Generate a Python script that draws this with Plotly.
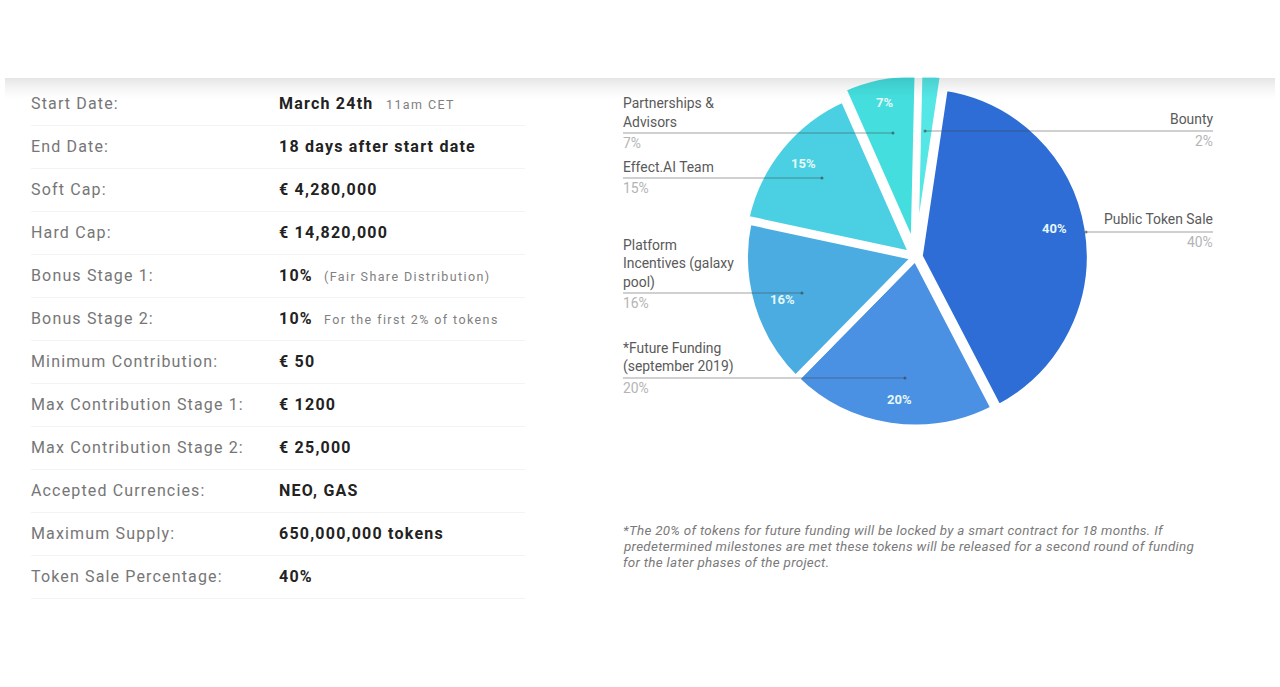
import plotly.graph_objects as go

W, H = 1280, 687

row_names = ["Start Date:", "End Date:", "Soft Cap:", "Hard Cap:", "Bonus Stage 1:", "Bonus Stage 2:",
             "Minimum Contribution:", "Max Contribution Stage 1:", "Max Contribution Stage 2:",
             "Accepted Currencies:", "Maximum Supply:", "Token Sale Percentage:"]
row_values = ["March 24th", "18 days after start date", "€ 4,280,000", "€ 14,820,000", "10%", "10%",
              "€ 50", "€ 1200", "€ 25,000", "NEO, GAS", "650,000,000 tokens", "40%"]
row_notes = ["11am CET", "", "", "", "(Fair Share Distribution)", "For the first 2% of tokens",
             "", "", "", "", "", ""]
note_x = [386, 0, 0, 0, 324, 324, 0, 0, 0, 0, 0, 0]

slice_names = ["Public Token Sale", "*Future Funding<br>(september 2019)", "Platform<br>Incentives (galaxy<br>pool)",
               "Effect.AI Team", "Partnerships &<br>Advisors", "Bounty"]
slice_values = [40, 20, 16, 15, 7, 2]
slice_colors = ["#2E6DD5", "#4A90E3", "#4AACE0", "#4AD0E2", "#45DEDE", "#55E6E6"]
slice_pull = [0.022, 0.0, 0.0, 0.02, 0.07, 0.07]
slice_gap = [7, 7, 7, 7, 5, 4]

# label layout: (percent x, percent y) inside the slices
pct_pos = [(1054, 228), (899, 400), (782, 299), (803, 164), (884, 103), None]
# label block: x, anchor, y of first text line, leader y, leader far end x, leader start x
label_pos = [(1213, "right", 219, 232, 1086, 1213),
             (623, "left", 348, 378, 905, 623),
             (623, "left", 245, 293, 802, 623),
             (623, "left", 167, 178, 822, 623),
             (623, "left", 103, 133, 893, 623),
             (1213, "right", 119, 131, 925, 1213)]

footnote = ["*The 20% of tokens for future funding will be locked by a smart contract for 18 months. If",
            "predetermined milestones are met these tokens will be released for a second round of funding",
            "for the later phases of the project."]

px = lambda x: x / W
py = lambda y: 1 - y / H

fig = go.Figure()
R = 171
CX, CY = 915.5, 257
PULL = max(slice_pull)
RD = R * (1 + PULL)
fig.add_trace(go.Pie(
    labels=[n.replace("<br>", " ") for n in slice_names], values=slice_values, sort=False,
    direction="clockwise", rotation=8.5, textinfo="none", hoverinfo="label+percent",
    pull=slice_pull, showlegend=False,
    marker=dict(colors=slice_colors, line=dict(color="white", width=slice_gap)),
    domain=dict(x=[px(CX - RD), px(CX + RD)], y=[py(CY + RD), py(CY - RD)]),
))

ann = []
shapes = []


def text(x, y, s, size, color, anchor="left", family="Roboto", spacing=None):
    if spacing:
        s = f'<span style="letter-spacing:{spacing}px">{s}</span>'
    ann.append(dict(x=px(x), y=py(y), xref="paper", yref="paper", text=s, showarrow=False,
                    xanchor=anchor, yanchor="middle", align=anchor,
                    font=dict(family=family, size=size, color=color), borderpad=0, borderwidth=0))


def line(x0, y0, x1, y1, color, width=1, layer="above"):
    shapes.append(dict(type="line", xref="paper", yref="paper", x0=px(x0), y0=py(y0), x1=px(x1), y1=py(y1),
                       line=dict(color=color, width=width), layer=layer))


def rect(x0, y0, x1, y1, color, layer="above"):
    shapes.append(dict(type="rect", xref="paper", yref="paper", x0=px(x0), y0=py(y0), x1=px(x1), y1=py(y1),
                       fillcolor=color, line=dict(width=0), layer=layer))


# table
for i, (n, v, t, nx) in enumerate(zip(row_names, row_values, row_notes, note_x)):
    y = 103.5 + 43 * i
    text(31, y, n, 16, "#767676", spacing=1.15)
    text(279, y, f"<b>{v}</b>", 16, "#222222", spacing=1.22)
    if t:
        text(nx, y + 1, t, 12.5, "#808080", spacing=1.4)
    line(31, y + 22, 525, y + 22, "#f3f3f3")

# pie labels and leaders
for v, name, pos, lp in zip(slice_values, slice_names, pct_pos, label_pos):
    if pos:
        text(pos[0], pos[1], f"<b>{v}%</b>", 13, "#e6f8f8", "center")
    x, anchor, y0, ly, far, start = lp
    for k, part in enumerate(name.split("<br>")):
        text(x, y0 + k * 18.5, part, 13.9, "#5a5a5a", anchor)
    text(x, ly + 10, f"{v}%", 13.9, "#b4b4b4", anchor)
    line(start, ly, far, ly, "rgba(70,70,70,0.5)", 1.2)
    shapes.append(dict(type="circle", xref="paper", yref="paper",
                       x0=px(far - 1.5), x1=px(far + 1.5), y0=py(ly + 1.5), y1=py(ly - 1.5),
                       fillcolor="rgba(60,60,60,0.6)", line=dict(width=0), layer="above"))

for i, t in enumerate(footnote):
    text(623, 530 + 16 * i, f"<i>{t}</i>", 13.4, "#7a7a7a", spacing=0.3)

# top clip and soft band
rect(0, 0, W, 77.5, "white")
for i in range(22):
    rect(5, 78 + i, 1275, 79 + i, f"rgba(0,0,0,{0.10 * (1 - i / 22) ** 1.5:.4f})")

fig.update_layout(
    width=W, height=H,
    margin=dict(l=0, r=0, t=0, b=0), paper_bgcolor="white", plot_bgcolor="white",
    annotations=ann, shapes=shapes, showlegend=False,
)
fig.write_html("out.html", config=dict(displayModeBar=False),
               post_script="document.body.style.margin='0';document.body.style.overflow='hidden';")
